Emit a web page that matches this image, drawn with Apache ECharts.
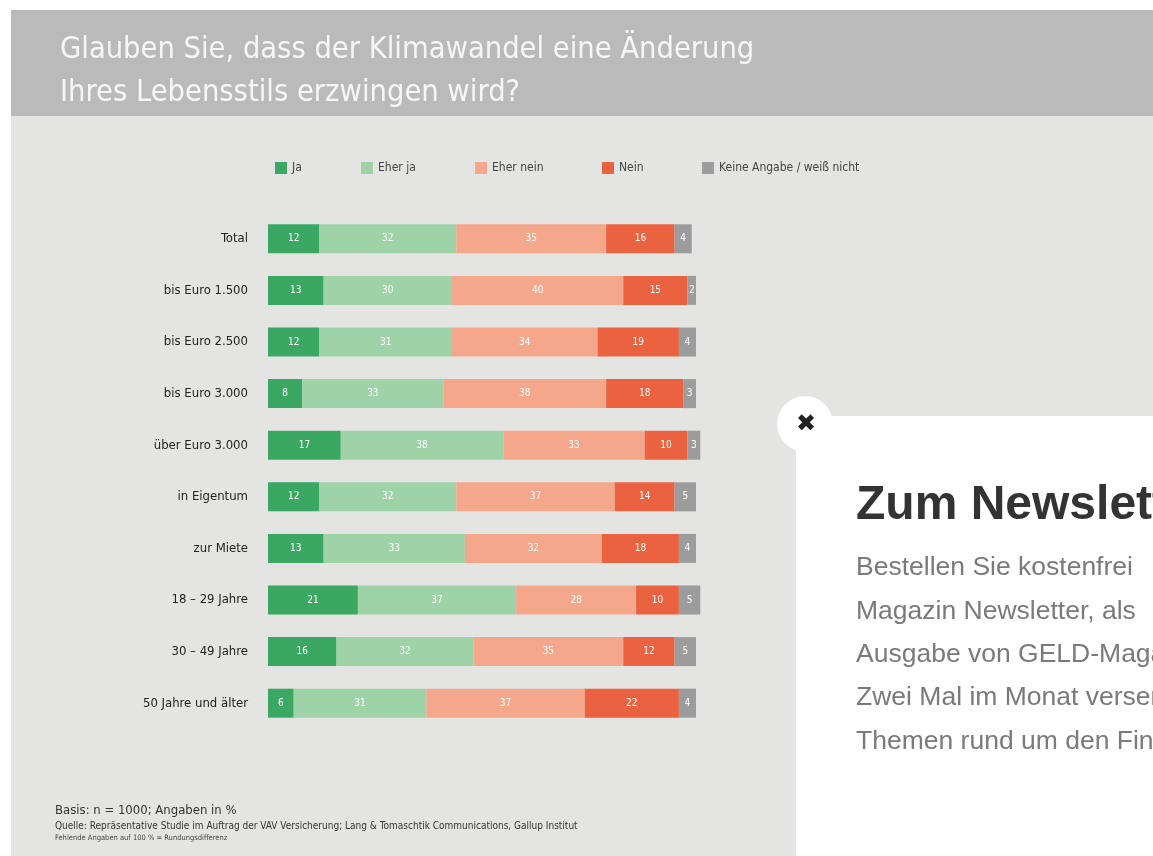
<!DOCTYPE html>
<html>
<head>
<meta charset="utf-8">
<script src="https://cdn.jsdelivr.net/npm/echarts@6/dist/echarts.min.js"></script>
<style>
  html, body { margin: 0; padding: 0; background: #fff; }
  #chart { width: 1153px; height: 856px; }
</style>
</head>
<body>
<div id="chart"></div>
<script>
// categories (top to bottom)
const categories = [
  "Total",
  "bis Euro 1.500",
  "bis Euro 2.500",
  "bis Euro 3.000",
  "über Euro 3.000",
  "in Eigentum",
  "zur Miete",
  "18 – 29 Jahre",
  "30 – 49 Jahre",
  "50 Jahre und älter",
];

const seriesNames = ["Ja", "Eher ja", "Eher nein", "Nein", "Keine Angabe / weiß nicht"];

const ja       = [12, 13, 12, 8, 17, 12, 13, 21, 16, 6];
const eherJa   = [32, 30, 31, 33, 38, 32, 33, 37, 32, 31];
const eherNein = [35, 40, 34, 38, 33, 37, 32, 28, 35, 37];
const nein     = [16, 15, 19, 18, 10, 14, 18, 10, 12, 22];
const keine    = [4, 2, 4, 3, 3, 5, 4, 5, 5, 4];

const titleLines = [
  "Glauben Sie, dass der Klimawandel eine Änderung",
  "Ihres Lebensstils erzwingen wird?",
];

const footerLines = [
  "Basis: n = 1000; Angaben in %",
  "Quelle: Repräsentative Studie im Auftrag der VAV Versicherung; Lang & Tomaschtik Communications, Gallup Institut",
  "Fehlende Angaben auf 100 % = Rundungsdifferenz",
];

const popupTitle = "Zum Newsletter";
const popupLines = [
  "Bestellen Sie kostenfrei",
  "Magazin Newsletter, als",
  "Ausgabe von GELD-Magazin.",
  "Zwei Mal im Monat versenden",
  "Themen rund um den Finanzmarkt.",
];

const colors = ["#3aa862", "#9ed3a8", "#f5a78b", "#eb6240", "#9c9c9c"];
const narrow = "'Liberation Sans Narrow', 'DejaVu Sans Condensed', sans-serif";
const legendLeft = [270, 356, 470, 597, 697];

const chart = echarts.init(document.getElementById("chart"), null, { renderer: "canvas" });

const valueRows = [ja, eherJa, eherNein, nein, keine];

chart.setOption({
  backgroundColor: "#ffffff",
  animation: false,
  title: {
    text: titleLines.join("\n"),
    left: 55,
    top: 24,
    textStyle: {
      color: "#f6f6f6",
      fontSize: 30.5,
      fontWeight: "normal",
      fontFamily: narrow,
      lineHeight: 43,
    },
  },
  legend: seriesNames.map((name, i) => ({
    data: [name],
    left: legendLeft[i],
    top: 157,
    icon: "rect",
    itemWidth: 12,
    itemHeight: 12,
    selectedMode: false,
    textStyle: { color: "#444", fontSize: 12, fontFamily: narrow },
  })),
  grid: { left: 268, top: 213, width: 432.3, height: 516 },
  xAxis: { type: "value", min: 0, max: 101, show: false },
  yAxis: {
    type: "category",
    data: categories,
    inverse: true,
    axisLine: { show: false },
    axisTick: { show: false },
    splitLine: { show: false },
    axisLabel: { color: "#222", fontSize: 13, margin: 20, fontFamily: narrow },
  },
  series: seriesNames.map((name, i) => ({
    name,
    type: "bar",
    stack: "total",
    barWidth: 29,
    data: valueRows[i],
    itemStyle: { color: colors[i] },
    label: {
      show: true,
      position: "inside",
      color: "#fff",
      fontSize: 10,
      fontFamily: narrow,
    },
  })),
  graphic: [
    { type: "rect", z: -10, shape: { x: 11, y: 116, width: 1142, height: 740 }, style: { fill: "#e4e4e2" } },
    { type: "rect", z: -10, shape: { x: 11, y: 10, width: 1142, height: 106 }, style: { fill: "#bababa" } },
    {
      type: "text", left: 55, top: 804,
      style: { text: footerLines[0], fill: "#333", font: "13px " + narrow },
    },
    {
      type: "text", left: 55, top: 821,
      style: { text: footerLines[1], fill: "#333", font: "10px " + narrow },
    },
    {
      type: "text", left: 55, top: 834,
      style: { text: footerLines[2], fill: "#444", font: "7.5px " + narrow },
    },
    { type: "rect", z: 100, shape: { x: 796, y: 416, width: 357, height: 440 }, style: { fill: "#ffffff" } },
    { type: "circle", z: 100, shape: { cx: 805, cy: 424, r: 28 }, style: { fill: "#ffffff" } },
    {
      type: "text", z: 101, x: 806, y: 425,
      style: { text: "✖", fill: "#222", font: "24px 'DejaVu Sans'", align: "center", verticalAlign: "middle" },
    },
    {
      type: "text", z: 101, x: 856, y: 506,
      style: { text: popupTitle, fill: "#333", font: "bold 48px 'Liberation Sans', Arial, sans-serif", verticalAlign: "middle" },
    },
    ...popupLines.map((t, i) => ({
      type: "text", z: 101, x: 856, y: 568 + i * 43.3,
      style: { text: t, fill: "#7a7a7a", font: "26.5px 'Liberation Sans', Arial, sans-serif", verticalAlign: "middle" },
    })),
  ],
});
</script>
</body>
</html>
